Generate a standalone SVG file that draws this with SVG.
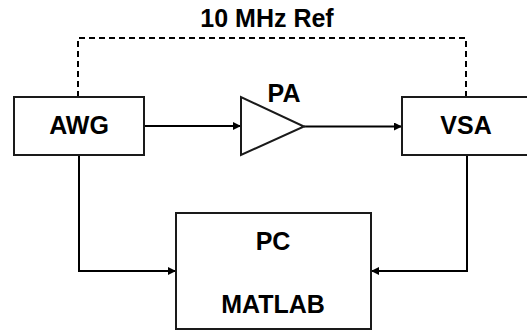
<svg xmlns="http://www.w3.org/2000/svg" width="527" height="335" viewBox="0 0 527 335">
<defs>
<marker id="arr" viewBox="0 0 10 10" refX="10" refY="5" markerWidth="9" markerHeight="8" markerUnits="userSpaceOnUse" orient="auto">
<path d="M0,0 L10,5 L0,10 Z" fill="#000"/>
</marker>
<style>
.box{fill:#fff;stroke:#1a1a1a;stroke-width:2}
.lbl{font-family:"Liberation Sans",Arial,sans-serif;font-weight:bold;font-size:25px;fill:#000;text-anchor:middle}
.ln{fill:none;stroke:#000;stroke-width:2}
.dash{fill:none;stroke:#000;stroke-width:2;stroke-dasharray:6,4}
</style>
</defs>
<rect width="527" height="335" fill="#fff"/>
<g id="connectors">
<path class="dash" d="M78,97 V38 H466 V97"/>
<line class="ln" x1="144" y1="126" x2="241" y2="126" marker-end="url(#arr)"/>
<line class="ln" x1="304" y1="126.5" x2="402" y2="126.5" marker-end="url(#arr)"/>
<path class="ln" d="M79,155 V271 H176" marker-end="url(#arr)"/>
<path class="ln" d="M467,155 V271 H371" marker-end="url(#arr)"/>
<text class="lbl" x="267" y="27">10 MHz Ref</text>
</g>
<g id="awg">
<rect class="box" x="14" y="97" width="130" height="58"/>
<text class="lbl" x="79" y="134">AWG</text>
</g>
<g id="pa">
<path class="box" d="M241,97 L241,155 L304,126.5 Z"/>
<text class="lbl" x="284" y="102">PA</text>
</g>
<g id="vsa">
<rect class="box" x="402" y="97" width="130" height="58"/>
<text class="lbl" x="466" y="134">VSA</text>
</g>
<g id="pc">
<rect class="box" x="176" y="213" width="195" height="116"/>
<text class="lbl" x="273" y="250">PC</text>
<text class="lbl" x="273" y="313">MATLAB</text>
</g>
</svg>
